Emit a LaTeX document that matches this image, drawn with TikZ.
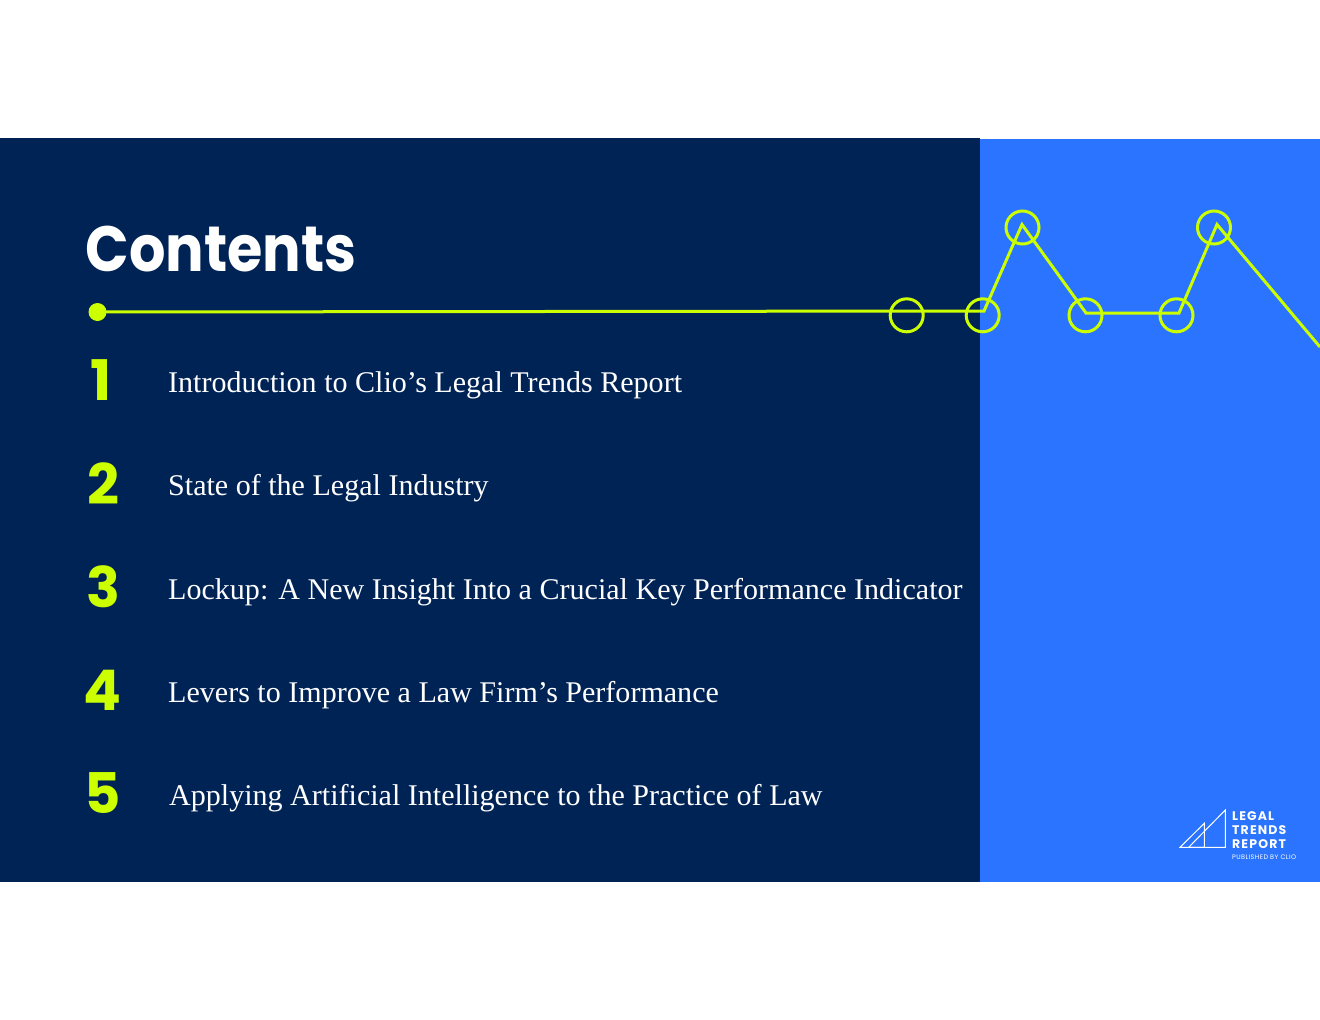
\documentclass[tikz,border=0pt]{standalone}
\usepackage{fontspec}
\setmainfont{Liberation Serif}
\newfontfamily\headfont{Poppins}[BoldFont={Poppins Bold}]
\newfontfamily\titlefont{Poppins Bold}[FakeStretch=0.895]
\newfontfamily\logofont{Poppins Bold}[LetterSpace=9]
\newfontfamily\logosmallfont{Poppins}[LetterSpace=6]
\definecolor{navy}{HTML}{002356}
\definecolor{brightblue}{HTML}{2A74FF}
\definecolor{lime}{HTML}{CCFF00}
\tikzset{
  x=1pt,y=-1pt,
  ring/.style={circle,draw=lime,line width=3pt,minimum size=33pt,inner sep=0pt,fill=none},
  trend/.style={draw=lime,line width=3pt,line join=miter},
  numeral/.style={text=lime,font=\headfont\bfseries\fontsize{56}{56}\selectfont,anchor=base west,inner sep=0pt},
  entry/.style={text=white,font=\fontsize{30.05}{32}\selectfont,anchor=base west,inner sep=0pt},
  logotext/.style={text=white,font=\logofont\fontsize{12.5}{14}\selectfont,anchor=base west,inner sep=0pt},
  logoline/.style={draw=white,line width=1pt},
}
\begin{document}
\begin{tikzpicture}
\useasboundingbox (0,0) rectangle (1320,1020);
\fill[white] (0,0) rectangle (1320,1020);
\fill[navy] (0,138) rectangle (980,882);
\fill[brightblue] (980,138.5) rectangle (1320,882);
% trend line
\coordinate (p0) at (97.5,312);
\coordinate (p1) at (984,311);
\coordinate (p2) at (1022,224.5);
\coordinate (p3) at (1086,313);
\coordinate (p4) at (1179,313);
\coordinate (p5) at (1217,224.5);
\coordinate (p6) at (1320,347);
\draw[trend] (p0) -- (p1) -- (p2) -- (p3) -- (p4) -- (p5) -- (p6);
\fill[lime] (p0) circle (9);
\node[ring] (r1) at (906.7,315.3) {};
\node[ring] (r2) at (982.7,315.3) {};
\node[ring] (r3) at (1022.5,227.5) {};
\node[ring] (r4) at (1085.5,315.3) {};
\node[ring] (r5) at (1176.5,315.3) {};
\node[ring] (r6) at (1214,227.5) {};
% title
\node[text=white,font=\titlefont\fontsize{64}{64}\selectfont,anchor=base west,inner sep=0pt] (title) at (85.5,271) {Contents};
% numerals
\node[numeral] (n1) at (90,400) {1};
\node[numeral] (n2) at (87,504) {2};
\node[numeral] (n3) at (86,607) {3};
\node[numeral] (n4) at (83,710) {4};
\node[numeral] (n5) at (84,813) {5};
% entries
\node[entry] (e1) at (168,392) {Introduction to Clio’s Legal Trends Report};
\node[entry] (e2) at (168,495) {State of the Legal Industry};
\node[entry] (e3) at (168,599) {Lockup: A New Insight Into a Crucial Key Performance Indicator};
\node[entry] (e4) at (168,702) {Levers to Improve a Law Firm’s Performance};
\node[entry] (e5) at (169,805) {Applying Artificial Intelligence to the Practice of Law};
% logo
\draw[logoline] (1180,847.3) -- (1204.3,823.3) -- (1204.3,847.3) -- cycle;
\draw[logoline] (1188.7,847.3) -- (1225.3,810) -- (1225.3,847.3) -- cycle;
\node[logotext] (l1) at (1232,820) {LEGAL};
\node[logotext] (l2) at (1232,834) {TRENDS};
\node[logotext] (l3) at (1232,848) {REPORT};
\node[text=white,font=\logosmallfont\fontsize{6.5}{7}\selectfont,anchor=base west,inner sep=0pt] (l4) at (1232,859) {PUBLISHED BY CLIO};
\end{tikzpicture}
\end{document}
